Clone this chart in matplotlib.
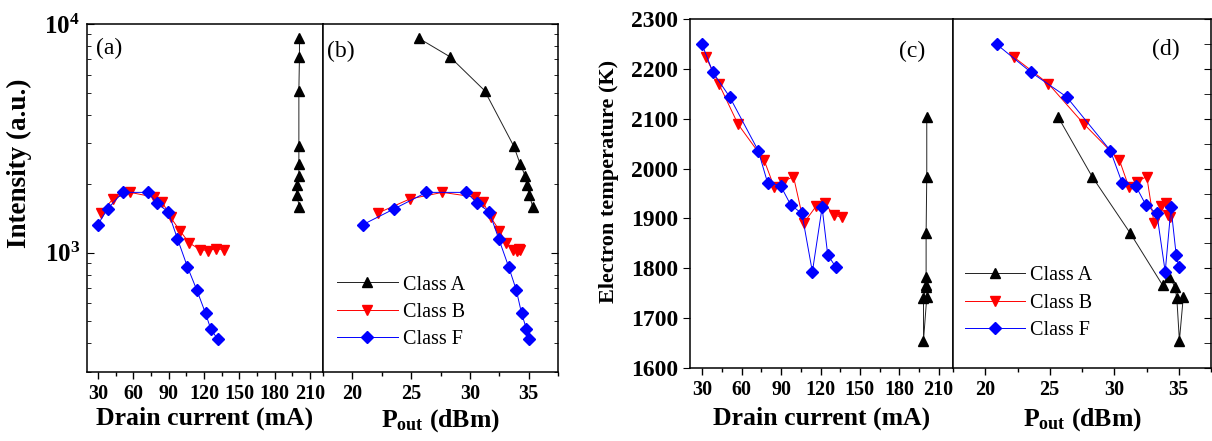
import matplotlib
matplotlib.use('Agg')
import matplotlib.pyplot as plt
from matplotlib.ticker import MultipleLocator, NullFormatter, LogLocator, FixedLocator

plt.rcParams['font.family'] = ['Liberation Serif', 'DejaVu Serif']
plt.rcParams['mathtext.fontset'] = 'custom'
plt.rcParams['mathtext.rm'] = 'Liberation Serif'
plt.rcParams['mathtext.bf'] = 'Liberation Serif:bold'
plt.rcParams['mathtext.it'] = 'Liberation Serif:italic'

# class A
drain_A = [201, 201, 200.5, 200.5, 200.5, 200.5, 198.5, 198.5, 201]
pout_A = [25.66, 28.28, 31.25, 33.75, 34.28, 34.7, 34.85, 35.05, 35.35]
int_A = [8657, 7200, 5113, 2911, 2439, 2169, 1967, 1792, 1584]
temp_A = [2103, 1984, 1870, 1766, 1783, 1763, 1740, 1655, 1742]

# class B
drain_B = [32.5, 42.5, 57.1, 77, 84.5, 91.5, 99.4, 107.3, 116.5, 123.3, 130, 136.5]
pout_B = [22.2, 24.9, 27.66, 30.4, 31.12, 31.78, 32.52, 33.08, 33.63, 34.02, 34.2, 34.3]
int_B = [1490, 1716, 1833, 1750, 1664, 1425, 1247, 1102, 1030, 1020, 1038, 1030]
temp_B = [2224, 2170, 2089, 2017, 1964, 1974, 1984, 1891, 1924, 1930, 1907, 1902]

# class F
drain_F = [29.7, 38, 50.7, 72.5, 79.6, 89.5, 97.3, 105.8, 113.8, 121.2, 125.5, 131.5]
pout_F = [20.9, 23.55, 26.3, 29.7, 30.6, 31.65, 32.45, 33.3, 33.95, 34.4, 34.8, 35.0]
int_F = [1325, 1552, 1833, 1833, 1648, 1506, 1151, 866, 685, 542, 465, 417]
temp_F = [2249, 2193, 2144, 2036, 1972, 1966, 1927, 1910, 1793, 1922, 1827, 1803]

labels = ['Class A', 'Class B', 'Class F']
drain_ticks = [30, 60, 90, 120, 150, 180, 210]
pout_ticks = [20, 25, 30, 35]

W, H = 1212, 441
fig = plt.figure(figsize=(W / 100, H / 100), dpi=100)

def box(l, r, t, b):
    return [l / W, (H - b) / H, (r - l) / W, (b - t) / H]

ax_a = fig.add_axes(box(87, 323, 24, 372))
ax_b = fig.add_axes(box(323, 558, 24, 372))
ax_c = fig.add_axes(box(690, 953, 19, 368))
ax_d = fig.add_axes(box(953, 1211, 19, 368))

styles = [dict(color='#222222', marker='^', mfc='black', mec='black'),
          dict(color='red', marker='v', mfc='red', mec='red'),
          dict(color='blue', marker='D', mfc='blue', mec='blue', ms=6)]

def draw(ax, xs, ys):
    for x, y, st, lab in zip(xs, ys, styles, labels):
        kw = dict(lw=0.7, ms=7)
        kw.update(st)
        ax.plot(x, y, label=lab, **kw)

draw(ax_a, [drain_A, drain_B, drain_F], [int_A, int_B, int_F])
draw(ax_b, [pout_A, pout_B, pout_F], [int_A, int_B, int_F])
draw(ax_c, [drain_A, drain_B, drain_F], [temp_A, temp_B, temp_F])
draw(ax_d, [pout_A, pout_B, pout_F], [temp_A, temp_B, temp_F])

tickfont = dict(fontsize=14.5, fontweight='bold')
for ax in [ax_a, ax_b, ax_c, ax_d]:
    for s in ax.spines.values():
        s.set_linewidth(1.1)
    ax.tick_params(axis='x', which='both', direction='out', top=False)
    ax.tick_params(axis='x', which='major', length=5, width=1.0)
    ax.tick_params(axis='x', which='minor', length=3, width=1.0)

for ax in [ax_a, ax_c]:
    ax.set_xlim(20.5, 221)
    ax.set_xticks(drain_ticks)
    ax.xaxis.set_minor_locator(MultipleLocator(15))
    ax.set_xticklabels([str(t) for t in drain_ticks], **tickfont)
    ax.set_xlabel('Drain current (mA)', fontsize=18.5, fontweight='bold')

for ax in [ax_b, ax_d]:
    ax.set_xlim(17.5, 37.5)
    ax.set_xticks(pout_ticks)
    ax.xaxis.set_minor_locator(MultipleLocator(2.5))
    ax.set_xticklabels([str(t) for t in pout_ticks], **tickfont)
    ax.set_xlabel(r'$\mathbf{P_{out}}$ (dBm)', fontsize=18.5, fontweight='bold')
    ax.tick_params(axis='y', which='both', left=False, labelleft=False,
                   right=True, direction='in')
    ax.tick_params(axis='y', which='major', length=5)
    ax.tick_params(axis='y', which='minor', length=3)

# intensity axes
for ax in [ax_a, ax_b]:
    ax.set_yscale('log')
    ax.set_ylim(300, 1e4)
    ax.yaxis.set_major_locator(FixedLocator([1e3, 1e4]))
    ax.yaxis.set_minor_locator(LogLocator(base=10, subs=range(2, 10)))
    ax.yaxis.set_minor_formatter(NullFormatter())
ax_a.set_yticklabels([r'$\mathbf{10^3}$', r'$\mathbf{10^4}$'], fontsize=18)
ax_a.tick_params(axis='y', which='both', direction='in', right=False)
ax_a.tick_params(axis='y', which='major', length=5, pad=5)
ax_a.tick_params(axis='y', which='minor', length=3)
ax_a.set_ylabel('Intensity (a.u.)', fontsize=19.5, fontweight='bold')
ax_a.yaxis.set_label_coords(-0.235, 0.6)

# temperature axes
for ax in [ax_c, ax_d]:
    ax.set_ylim(1600, 2300)
    ax.yaxis.set_major_locator(MultipleLocator(100))
ax_d.yaxis.set_minor_locator(MultipleLocator(50))
ax_d.tick_params(axis='y', which='minor', length=5)
ax_c.set_yticks(range(1600, 2301, 100))
ax_c.set_yticklabels([str(t) for t in range(1600, 2301, 100)], fontsize=17, fontweight='bold')
ax_c.tick_params(axis='y', which='major', direction='out', length=5, right=False)
ax_c.set_ylabel('Electron temperature (K)', fontsize=16, fontweight='bold')
ax_c.yaxis.set_label_coords(-0.27, 0.535)

for ax, y in [(ax_a, -0.1), (ax_b, -0.1), (ax_c, -0.11), (ax_d, -0.11)]:
    ax.xaxis.set_label_coords(0.5, y)

# panel labels
ax_a.text(0.04, 0.93, '(a)', transform=ax_a.transAxes, fontsize=17, va='center')
ax_b.text(0.015, 0.92, '(b)', transform=ax_b.transAxes, fontsize=17, va='center')
ax_c.text(0.895, 0.906, '(c)', transform=ax_c.transAxes, fontsize=17, va='center', ha='right')
ax_d.text(0.877, 0.914, '(d)', transform=ax_d.transAxes, fontsize=17, va='center', ha='right')

for ax, (lx, ly) in [(ax_b, (0.06, 0.172)), (ax_d, (0.045, 0.186))]:
    ax.legend(loc='center left', bbox_to_anchor=(lx, ly), frameon=False,
              fontsize=14.5, handlelength=3.0, handletextpad=0.25,
              labelspacing=0.4, borderpad=0, borderaxespad=0)

fig.savefig('out.png', dpi=100)
